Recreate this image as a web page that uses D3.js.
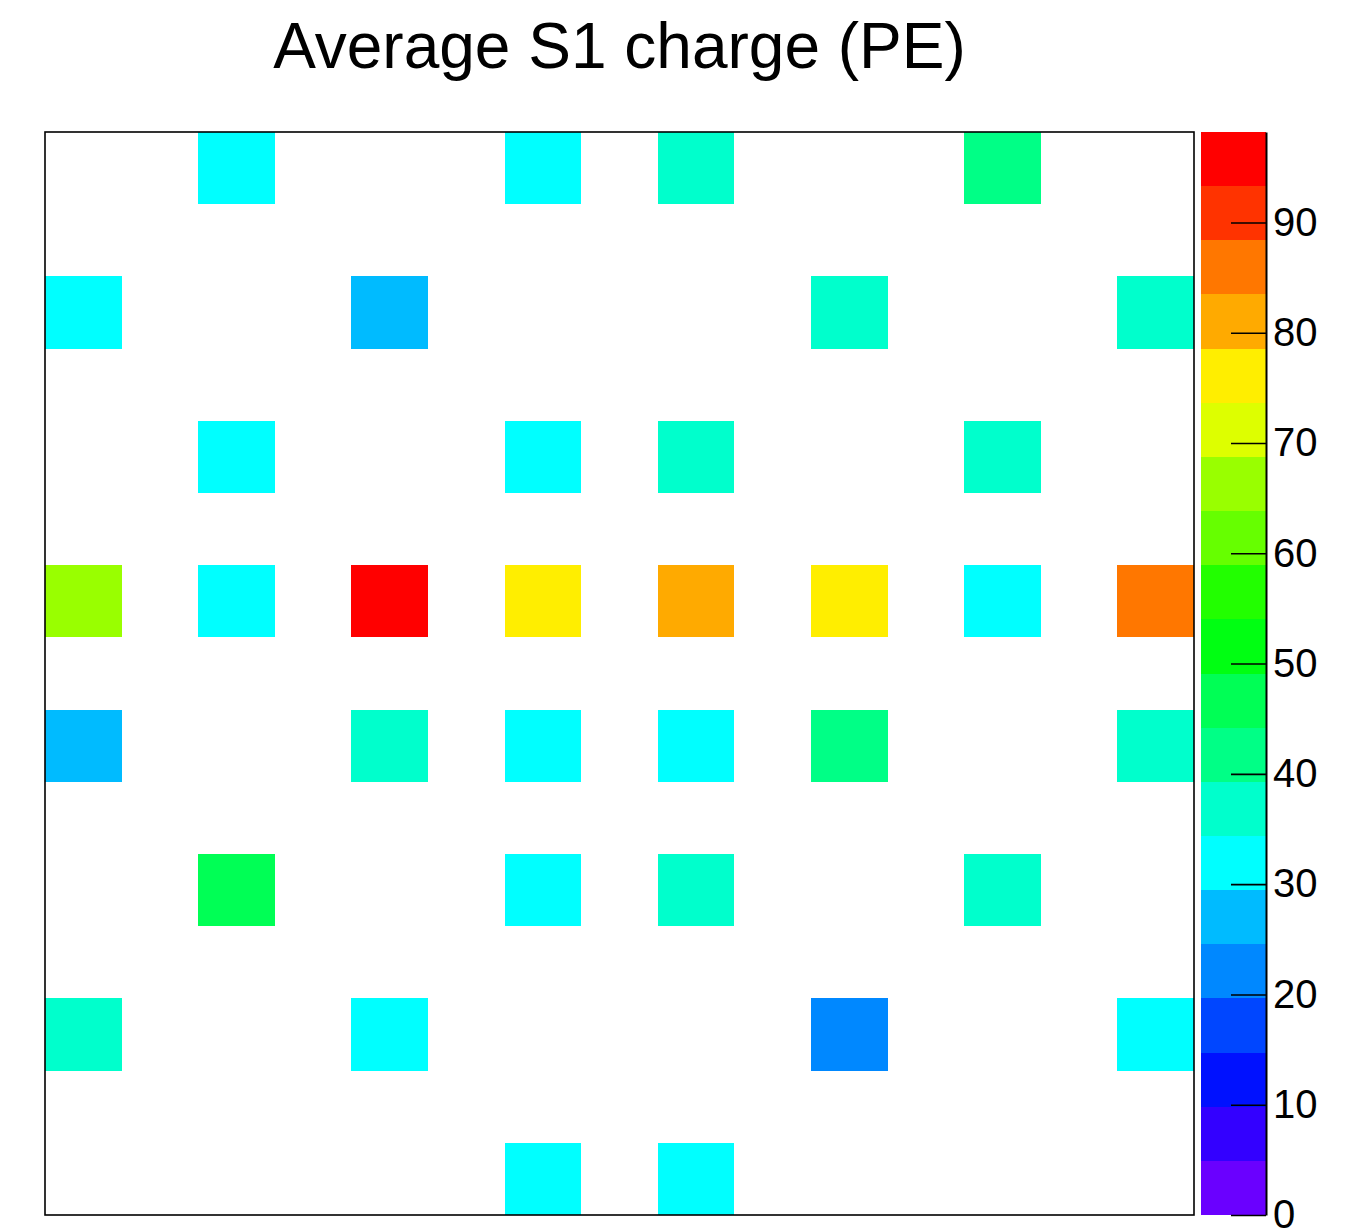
<!DOCTYPE html>
<html>
<head>
<meta charset="utf-8">
<script src="https://cdn.jsdelivr.net/npm/d3@7"></script>
<style>
  html, body { margin: 0; padding: 0; background: #fff; }
  svg { display: block; }
  text { font-family: "Liberation Sans", Arial, Helvetica, sans-serif; }
</style>
</head>
<body>
<svg id="chart" width="1353" height="1231"></svg>
<script>
// ---- data ----
const titleText = "Average S1 charge (PE)";
const nBins = 15;                              // 15 x 15 histogram bins
const pmtColumns = [0, 2, 4, 6, 8, 10, 12, 14]; // bin index of each PMT column
const pmtRows = [0, 2, 4, 6, 8, 10, 12, 14];    // bin index of each PMT row (from top)
// average S1 charge per PMT (PE), rows from top, null = no entry
const row0  = [null, 32, null, 32, 37, null, 42, null];
const row2  = [32, null, 27, null, null, 37, null, 37];
const row4  = [null, 32, null, 32, 37, null, 37, null];
const row6  = [66, 32, 93.6, 76, 81, 76, 32, 86];
const row8  = [27, null, 37, 32, 32, 42, null, 37];
const row10 = [null, 46.5, null, 32, 37, null, 37, null];
const row12 = [37, null, 32, null, null, 22, null, 32];
const row14 = [null, null, null, 32, 32, null, null, null];
const pmtValues = [row0, row2, row4, row6, row8, row10, row12, row14];
const zMin = 0, zMax = 98.2;
const nContours = 20;
const paletteColors = ["#6a00ff","#3300ff","#0011ff","#0046ff","#0088ff","#00bbff","#00ffff","#00ffcc","#00ff86","#00ff55",
                       "#00ff12","#22ff00","#66ff00","#99ff00","#ddff00","#ffee00","#ffaa00","#ff7700","#ff3300","#ff0000"];
const zTicks = [0, 10, 20, 30, 40, 50, 60, 70, 80, 90];

// ---- layout ----
const frame = { left: 45, right: 1194, top: 132, bottom: 1215 };
const bar = { left: 1201, right: 1266 };

const svg = d3.select("#chart");

const x = d3.scaleLinear().domain([0, nBins]).range([frame.left, frame.right]);
const y = d3.scaleLinear().domain([0, nBins]).range([frame.top, frame.bottom]);
const z = d3.scaleLinear().domain([zMin, zMax]).range([frame.bottom, frame.top]);

const edges = d3.range(nContours + 1).map(i => zMin + (zMax - zMin) * i / nContours);
const color = d3.scaleThreshold().domain(edges.slice(1, -1)).range(paletteColors);

// cells
const cells = [];
pmtValues.forEach((row, ri) => row.forEach((v, ci) => {
  if (v !== null) cells.push({ col: pmtColumns[ci], row: pmtRows[ri], v });
}));

svg.append("g").selectAll("rect").data(cells).join("rect")
  .attr("x", d => x(d.col))
  .attr("y", d => y(d.row))
  .attr("width", d => x(d.col + 1) - x(d.col))
  .attr("height", d => y(d.row + 1) - y(d.row))
  .attr("fill", d => color(d.v))
  .attr("shape-rendering", "crispEdges");

// frame
svg.append("rect")
  .attr("x", frame.left).attr("y", frame.top)
  .attr("width", frame.right - frame.left).attr("height", frame.bottom - frame.top)
  .attr("fill", "none").attr("stroke", "#000").attr("stroke-width", 1.6);

// colour bar
svg.append("g").selectAll("rect").data(d3.range(nContours)).join("rect")
  .attr("x", bar.left)
  .attr("width", bar.right - bar.left)
  .attr("y", i => z(edges[i + 1]))
  .attr("height", i => z(edges[i]) - z(edges[i + 1]))
  .attr("fill", i => paletteColors[i])
  .attr("shape-rendering", "crispEdges");

const axis = d3.axisRight(z).tickValues(zTicks).tickSizeInner(-35).tickSizeOuter(0).tickPadding(7)
  .tickFormat(d3.format("d"));
const ag = svg.append("g").attr("transform", `translate(${bar.right},0)`).call(axis);
ag.select(".domain").attr("stroke", "#000").attr("stroke-width", 2);
ag.selectAll(".tick line").attr("stroke", "#000").attr("stroke-width", 1.6);
ag.selectAll(".tick text").attr("font-size", 40).attr("fill", "#000")
  .attr("font-family", "'Liberation Sans', Arial, Helvetica, sans-serif");

// title
svg.append("text")
  .attr("x", (frame.left + frame.right) / 2)
  .attr("y", 68)
  .attr("text-anchor", "middle")
  .attr("font-size", 64)
  .attr("fill", "#000")
  .text(titleText);
</script>
</body>
</html>
